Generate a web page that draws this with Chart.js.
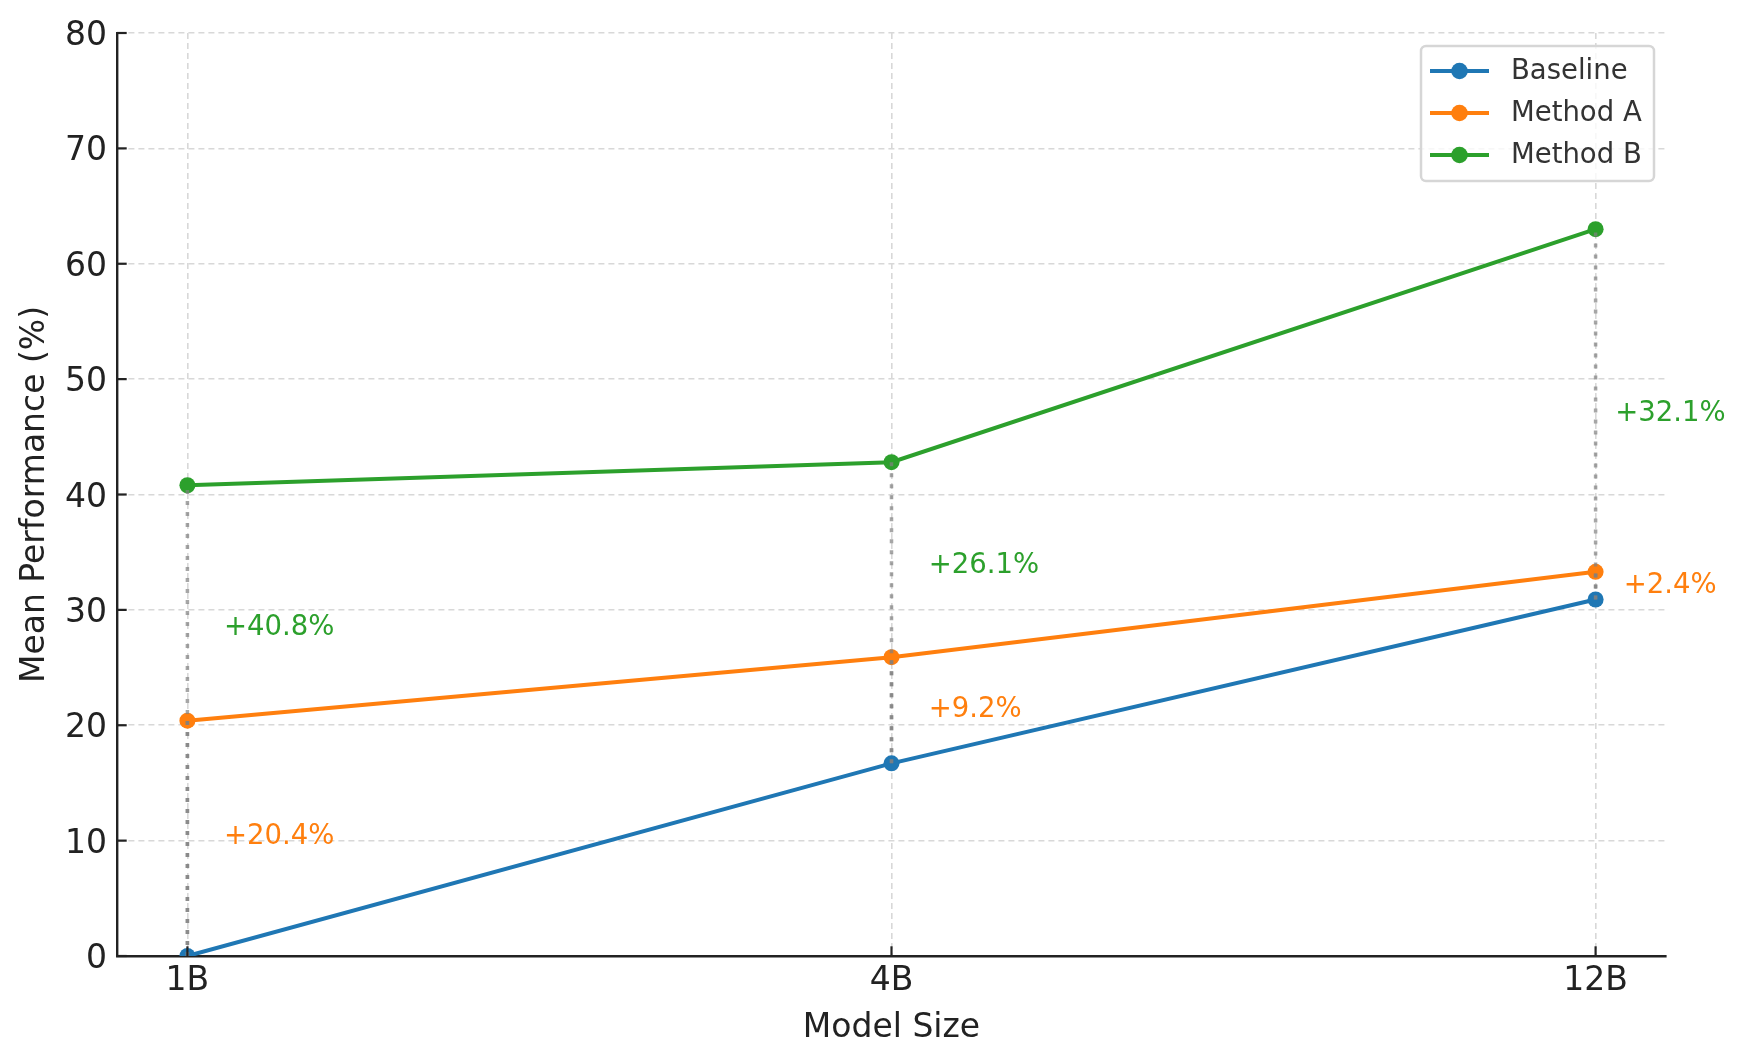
<!DOCTYPE html>
<html>
<head>
<meta charset="utf-8">
<script src="https://cdn.jsdelivr.net/npm/chart.js@4.4.1/dist/chart.umd.min.js"></script>
<style>
  html, body { margin: 0; padding: 0; background: #fff; }
  #wrap { width: 1745px; height: 1063px; }
</style>
</head>
<body>
<div id="wrap"><canvas id="perf"></canvas></div>
<script>
// values
const sizes = ['1B', '4B', '12B'];
const baseline = [0, 16.7, 30.9];
const methodA = [20.4, 25.9, 33.3];
const methodB = [40.8, 42.8, 63.0];
const yTicks = [0, 10, 20, 30, 40, 50, 60, 70, 80];

// where the gain labels sit (data units)
const gainAX = [0.052, 1.053, 2.04];
const gainAY = [10.3, 21.3, 32.1];
const gainBX = [0.052, 1.053, 2.028];
const gainBY = [28.4, 33.8, 47.0];

const BLUE = '#1f77b4', ORANGE = '#ff7f0e', GREEN = '#2ca02c';
const FONT = 'DejaVu Sans';

function pts(arr) {
    return arr.map((v, i) => ({ x: i, y: v }));
}

// dotted gain lines, gain labels, inward ticks and the legend
const extras = {
    id: 'extras',
    afterDatasetsDraw(chart) {
        const ctx = chart.ctx;
        const xs = chart.scales.x, ys = chart.scales.y;

        ctx.save();
        ctx.strokeStyle = 'rgba(128,128,128,0.7)';
        ctx.lineWidth = 3.5;
        ctx.setLineDash([4, 7]);
        for (let i = 0; i < sizes.length; i++) {
            const px = xs.getPixelForValue(i);
            [methodA[i], methodB[i]].forEach(top => {
                ctx.beginPath();
                ctx.moveTo(px, ys.getPixelForValue(baseline[i]));
                ctx.lineTo(px, ys.getPixelForValue(top));
                ctx.stroke();
            });
        }
        ctx.setLineDash([]);

        ctx.font = '27.5px "' + FONT + '"';
        ctx.textAlign = 'left';
        ctx.textBaseline = 'middle';
        for (let i = 0; i < sizes.length; i++) {
            ctx.fillStyle = ORANGE;
            ctx.fillText('+' + (methodA[i] - baseline[i]).toFixed(1) + '%',
                xs.getPixelForValue(gainAX[i]), ys.getPixelForValue(gainAY[i]));
            ctx.fillStyle = GREEN;
            ctx.fillText('+' + (methodB[i] - baseline[i]).toFixed(1) + '%',
                xs.getPixelForValue(gainBX[i]), ys.getPixelForValue(gainBY[i]));
        }
        ctx.restore();
    },
    afterDraw(chart) {
        const ctx = chart.ctx;
        const xs = chart.scales.x, ys = chart.scales.y;
        const area = chart.chartArea;

        // ticks point into the plot
        ctx.save();
        ctx.strokeStyle = '#222';
        ctx.lineWidth = 2.2;
        yTicks.forEach(v => {
            const py = ys.getPixelForValue(v);
            ctx.beginPath();
            ctx.moveTo(area.left, py);
            ctx.lineTo(area.left + 9.7, py);
            ctx.stroke();
        });
        sizes.forEach((s, i) => {
            const px = xs.getPixelForValue(i);
            ctx.beginPath();
            ctx.moveTo(px, area.bottom);
            ctx.lineTo(px, area.bottom - 9.7);
            ctx.stroke();
        });

        // legend box, top right
        const bw = 233, bh = 135;
        const bx = area.right - 12 - bw, by = area.top + 13;
        ctx.fillStyle = 'rgba(255,255,255,0.8)';
        ctx.strokeStyle = '#d6d6d6';
        ctx.lineWidth = 2.5;
        ctx.beginPath();
        ctx.roundRect(bx, by, bw, bh, 5);
        ctx.fill();
        ctx.stroke();

        ctx.font = '27.5px "' + FONT + '"';
        ctx.textBaseline = 'middle';
        ctx.textAlign = 'left';
        chart.data.datasets.forEach((ds, k) => {
            const cy = by + 25 + k * 42;
            ctx.strokeStyle = ds.borderColor;
            ctx.lineWidth = 4;
            ctx.beginPath();
            ctx.moveTo(bx + 9, cy);
            ctx.lineTo(bx + 68, cy);
            ctx.stroke();
            ctx.fillStyle = ds.borderColor;
            ctx.beginPath();
            ctx.arc(bx + 38.5, cy, 8.3, 0, Math.PI * 2);
            ctx.fill();
            ctx.fillStyle = '#333';
            ctx.fillText(ds.label, bx + 90, cy + 1);
        });
        ctx.restore();
    }
};

const ctx = document.getElementById('perf').getContext('2d');
const config = {
    type: 'line',
    data: {
        datasets: [{
            label: 'Baseline',
            data: pts(baseline),
            borderColor: BLUE,
            backgroundColor: BLUE
        },
        {
            label: 'Method A',
            data: pts(methodA),
            borderColor: ORANGE,
            backgroundColor: ORANGE
        },
        {
            label: 'Method B',
            data: pts(methodB),
            borderColor: GREEN,
            backgroundColor: GREEN
        }]
    },
    options: {
        responsive: true,
        maintainAspectRatio: false,
        animation: false,
        layout: { padding: { top: 33, right: 79, left: 0, bottom: 0 } },
        elements: {
            line: { borderWidth: 4, tension: 0 },
            point: { radius: 8, hoverRadius: 8, borderWidth: 0 }
        },
        datasets: { line: { clip: 0 } },
        plugins: {
            legend: { display: false },
            tooltip: { enabled: false }
        },
        scales: {
            x: {
                type: 'linear',
                min: -0.1,
                max: 2.1,
                afterBuildTicks: axis => { axis.ticks = sizes.map((s, i) => ({ value: i })); },
                afterFit: axis => { axis.height = 107; },
                ticks: {
                    callback: v => sizes[v],
                    color: '#222',
                    font: { family: FONT, size: 33 },
                    padding: 6,
                    maxRotation: 0
                },
                grid: { color: '#d8d8d8', lineWidth: 1.6, drawTicks: false },
                border: { display: true, color: '#222', width: 2.4, dash: [6, 4] },
                title: {
                    display: true,
                    text: 'Model Size',
                    color: '#222',
                    font: { family: FONT, size: 33 },
                    padding: { top: 0, bottom: 15 }
                }
            },
            y: {
                min: 0,
                max: 80,
                afterBuildTicks: axis => { axis.ticks = yTicks.map(v => ({ value: v })); },
                afterFit: axis => { axis.width = 117; },
                ticks: {
                    color: '#222',
                    font: { family: FONT, size: 33 },
                    padding: 10,
                    labelOffset: 3.5
                },
                grid: { color: '#d8d8d8', lineWidth: 1.6, drawTicks: false },
                border: { display: true, color: '#222', width: 2.4, dash: [6, 4] },
                title: {
                    display: true,
                    text: 'Mean Performance (%)',
                    color: '#222',
                    font: { family: FONT, size: 33 },
                    padding: { top: 16, bottom: 0 }
                }
            }
        }
    },
    plugins: [extras]
};
const perfChart = new Chart(ctx, config);
</script>
</body>
</html>
